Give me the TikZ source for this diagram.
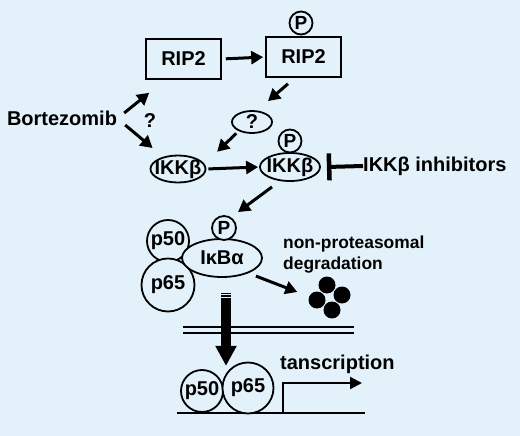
\documentclass[tikz,border=0pt]{standalone}
\usepackage{fontspec}
\setmainfont{Liberation Sans}
\usetikzlibrary{arrows.meta,shapes.geometric,calc}
\definecolor{bg}{RGB}{227,242,250}
\tikzset{
  bx/.style={draw, line width=1.6pt, minimum width=75pt, minimum height=40pt, inner sep=0pt},
  ell/.style={ellipse, draw, line width=1.8pt, fill=bg, inner sep=0pt},
  circ/.style={circle, draw, line width=1.8pt, fill=bg, inner sep=0pt},
  dotn/.style={circle, fill=black, inner sep=0pt, minimum size=17pt},
  arr/.style={line width=3pt, -{Triangle[length=12pt,width=13pt]}},
  txt/.style={font=\bfseries\fontsize{20}{22}\selectfont, inner sep=0pt},
  ptxt/.style={font=\bfseries\fontsize{19}{20}\selectfont, inner sep=0pt},
  stxt/.style={font=\bfseries\fontsize{17.4}{21}\selectfont, inner sep=0pt, align=left}
}
\begin{document}
\begin{tikzpicture}[x=1pt,y=-1pt]
\fill[bg] (0,0) rectangle (520,436);
\useasboundingbox (0,0) rectangle (520,436);

% top row
\node[bx] (rip1) at (183.5,59) {};
\node[txt] (rip1t) at (rip1) {RIP2};
\node[bx] (rip2) at (303.5,57) {};
\node[txt] (rip2t) at (rip2) {RIP2};
\node[circ, minimum size=23pt] (p1) at (301,23) {};
\node[ptxt] (p1t) at (p1) {P};

\node[txt] (bort) at (62,118) {Bortezomib};
\node[txt] (qm) at (150,121) {?};

\node[ell, minimum width=40pt, minimum height=22pt] (q) at (252,122) {};
\node[txt] (qt) at (q) {?};

\node[ell, minimum width=55pt, minimum height=27pt] (ikk1) at (178,169) {};
\node[txt] (ikk1t) at (ikk1) {IKKβ};
\node[circ, minimum size=23pt] (p2) at (290,141) {};
\node[ptxt] (p2t) at (p2) {P};
\node[ell, minimum width=60pt, minimum height=28pt] (ikk2) at (290,167) {};
\node[txt] (ikk2t) at (ikk2) {IKKβ};
\node[txt, anchor=west] (inh) at (363,166) {IKKβ inhibitors};

% complex
\node[circ, minimum size=42pt] (p50a) at (168,241) {};
\node[txt] (p50at) at (p50a) {p50};
\node[circ, minimum size=53pt] (p65a) at (168,285) {};
\node[txt] (p65at) at (p65a) {p65};
\node[ell, minimum width=80pt, minimum height=38pt] (ikba) at (222,258) {};
\node[txt] (ikbat) at (ikba) {IκBα};
\node[circ, minimum size=24pt] (p3) at (224,228) {};
\node[ptxt] (p3t) at (p3) {P};

\node[stxt, anchor=north west] (deg) at (283,236) {non-proteasomal\\degradation};
\node[dotn] (d1) at (327,285) {};
\node[dotn] (d2) at (317,300) {};
\node[dotn] (d3) at (342,295) {};
\node[dotn] (d4) at (332,310) {};

% membrane
\coordinate (mL) at (183,327);
\coordinate (mR) at (354,327);
\draw[line width=1.5pt] (mL) -- (mR);
\draw[line width=1.5pt] ($(mL)+(0,6)$) -- ($(mR)+(0,6)$);

% nucleus
\coordinate (dnaL) at (177,413);
\coordinate (dnaR) at (365,413);
\coordinate (tss) at (283,413);
\draw[line width=2.5pt] (dnaL) -- (dnaR);
\node[circ, minimum size=42pt] (p50b) at (202,391) {};
\node[txt] (p50bt) at (p50b) {p50};
\node[circ, minimum size=51pt] (p65b) at (248,388) {};
\node[txt] (p65bt) at (p65b) {p65};
\draw[line width=2.2pt, -{Triangle[length=12pt,width=12pt]}] (tss) -- ++(0,-30) -- ++(79,0);
\node[txt, anchor=west] (tr) at (280,364) {tanscription};

% arrows
\draw[arr] ($(bort.east)+(7,-5)$) -- ($(rip1.south west)+(4,13)$);
\draw[arr] ($(bort.east)+(8,7)$) -- ($(ikk1.west)+(3,-21)$);
\draw[arr, shorten <=4pt, shorten >=2pt] (rip1.east) -- (rip2.west);
\draw[arr] ($(rip2.south)+(-15.5,6)$) -- ($(q.north)+(16,-9)$);
\draw[arr] ($(q.south west)+(-1,3)$) -- ($(ikk1.north east)+(19,-7)$);
\draw[arr, shorten <=2pt, shorten >=1pt] (ikk1.east) -- (ikk2.west);
\draw[arr] ($(ikk2.south)+(-18,5)$) -- ($(ikba.north)+(16,-26)$);
\draw[arr] ($(ikba.south east)+(5,4)$) -- ($(d2.west)+(-11,-8)$);
\draw[line width=4pt, -{Bar[width=27pt,line width=4.5pt]}] (inh.west) -- ($(ikk2.east)+(6,0)$);

% big translocation arrow
\coordinate (bs) at ($(ikba.south)+(4,15)$);
\draw[line width=10pt, -{Triangle[length=20pt,width=20pt]}] (bs) -- ($(ikba.south)+(4,88)$);
\draw[bg, line width=0.9pt] ($(bs)+(-6,2)$) -- ++(12,0);
\draw[bg, line width=0.9pt] ($(bs)+(-6,5)$) -- ++(12,0);
\end{tikzpicture}
\end{document}
